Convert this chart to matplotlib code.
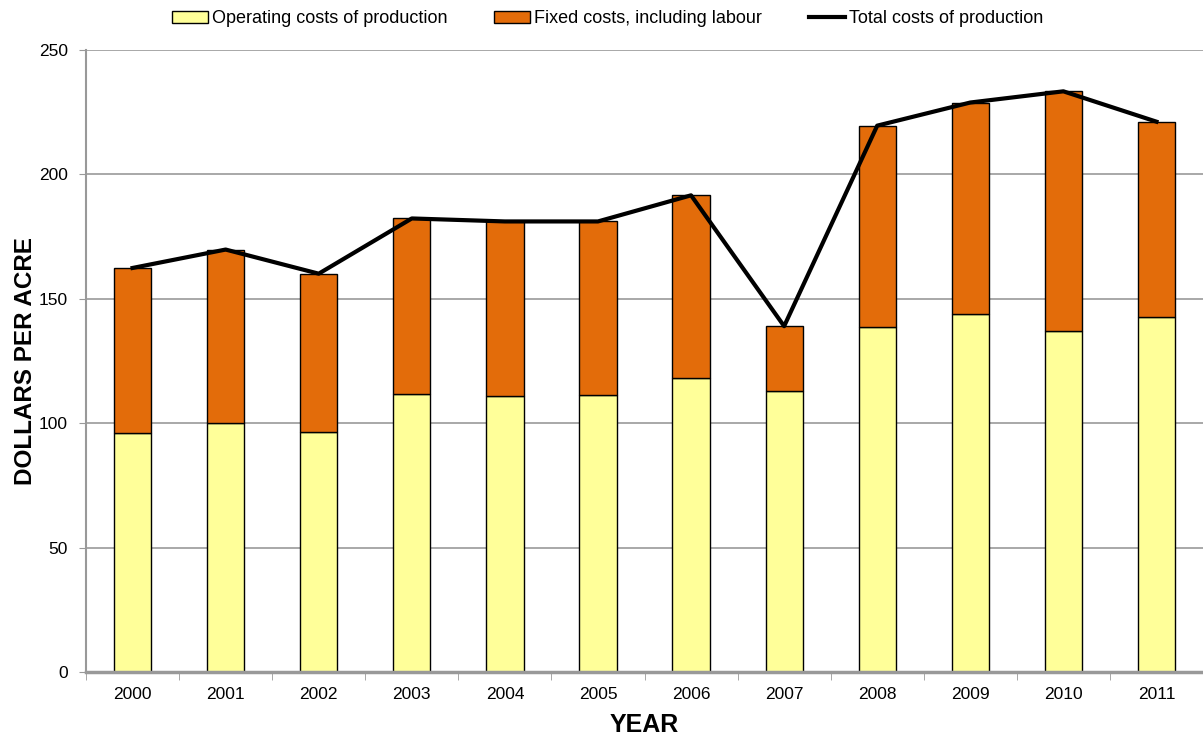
import matplotlib
matplotlib.use("Agg")
import matplotlib.pyplot as plt
import numpy as np

plt.rcParams['font.family'] = ['Liberation Sans', 'DejaVu Sans']

years = ["2000", "2001", "2002", "2003", "2004", "2005",
         "2006", "2007", "2008", "2009", "2010", "2011"]
operating = [96.0, 99.9, 96.5, 111.9, 110.8, 111.5, 118.0, 113.0, 138.8, 143.8, 137.2, 142.7]
total = [162.4, 169.8, 160.1, 182.3, 181.1, 181.1, 191.6, 139.0, 219.6, 228.9, 233.4, 221.2]
fixed = [t - o for t, o in zip(total, operating)]

fig = plt.figure(figsize=(12.03, 7.40), dpi=100)
ax = fig.add_axes([0.0715, 0.0919, 0.9285, 0.8405])

x = np.arange(len(years))
grid_c = "#999999"

b1 = ax.bar(x, operating, width=0.4, color="#FFFF99", edgecolor="black", linewidth=1,
            label="Operating costs of production", zorder=2)
b2 = ax.bar(x, fixed, bottom=operating, width=0.4, color="#E36C0A", edgecolor="black",
            linewidth=1, label="Fixed costs, including labour", zorder=2)
ln, = ax.plot(x, total, color="black", linewidth=3, label="Total costs of production", zorder=3)

ax.set_xlim(-0.5, len(years) - 0.5)
ax.set_ylim(0, 250)
ax.set_yticks(range(0, 251, 50))
ax.yaxis.grid(True, color=grid_c, linewidth=1.2)
ax.set_axisbelow(True)

ax.set_xticks(x)
ax.set_xticklabels(years, fontsize=12.5)
ax.set_xticks(np.arange(-0.5, len(years), 1), minor=True)
ax.tick_params(axis="x", which="major", length=0, pad=11)
ax.tick_params(axis="x", which="minor", length=6, color=grid_c, direction="out")
ax.tick_params(axis="y", length=5, color=grid_c, labelsize=12.5, direction="out", pad=8)

for s in ["top", "right"]:
    ax.spines[s].set_visible(False)
ax.spines["left"].set_color(grid_c)
ax.spines["left"].set_linewidth(1.5)
ax.spines["bottom"].set_color(grid_c)
ax.spines["bottom"].set_linewidth(2.5)

ax.set_xlabel("YEAR", fontsize=18, fontweight="bold", labelpad=8)
ax.set_ylabel("DOLLARS PER ACRE", fontsize=17.5, fontweight="bold", labelpad=1)

fig.legend([b1, b2, ln], [b1.get_label(), b2.get_label(), ln.get_label()],
           loc="upper center", bbox_to_anchor=(0.505, 1.008), ncol=3, frameon=False,
           fontsize=13, handlelength=2.0, handletextpad=0.2, columnspacing=2.6)

fig.savefig("out.png", dpi=100)
